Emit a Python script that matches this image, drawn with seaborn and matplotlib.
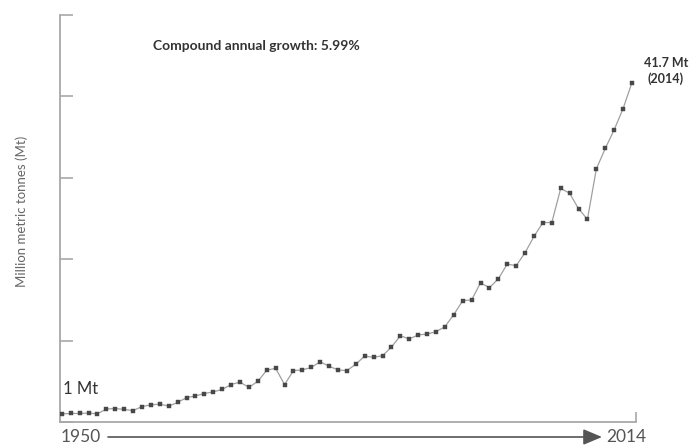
import matplotlib
matplotlib.use("Agg")
import matplotlib.pyplot as plt
import seaborn as sns
import pandas as pd

years = list(range(1950, 2015))
production_mt = [
    1.0, 1.05, 1.05, 1.1, 1.0, 1.6, 1.65, 1.55, 1.4, 1.9,
    2.1, 2.2, 1.95, 2.4, 3.0, 3.2, 3.5, 3.7, 4.0, 4.6,
    4.9, 4.25, 5.0, 6.35, 6.6, 4.6, 6.3, 6.4, 6.7, 7.4,
    6.85, 6.4, 6.3, 7.1, 8.1, 7.95, 8.15, 9.2, 10.6, 10.2,
    10.7, 10.8, 11.1, 11.7, 13.2, 14.9, 15.0, 17.1, 16.5, 17.6,
    19.4, 19.2, 20.8, 22.8, 24.5, 24.5, 28.7, 28.1, 26.2, 24.9,
    31.1, 33.6, 35.9, 38.5, 41.7,
]
y_ticks = [0, 10, 20, 30, 40, 50]
growth_label = "Compound annual growth: 5.99%"
y_label = "Million metric tonnes (Mt)"
start_label = "1 Mt"

df = pd.DataFrame({"year": years, "mt": production_mt})

sns.set_style("white")
plt.rcParams["font.family"] = ["Lato", "DejaVu Sans"]

W, H = 692, 445
fig = plt.figure(figsize=(W / 100, H / 100), dpi=100)
ax = fig.add_axes([60 / W, 23 / H, 576 / W, 407 / H])

sns.lineplot(data=df, x="year", y="mt", ax=ax, color="#a0a0a0", lw=0.9, zorder=2)
sns.scatterplot(data=df, x="year", y="mt", ax=ax, marker="s", s=12,
                color="#484848", edgecolor="#484848", linewidth=0.3, zorder=3)

ax.set_xlim(1949.8, 2014.45)
ax.set_ylim(y_ticks[0], y_ticks[-1])
ax.set_xlabel("")
ax.set_ylabel("")

for s in ["top", "right"]:
    ax.spines[s].set_visible(False)
for s in ["left", "bottom"]:
    ax.spines[s].set_color("#a8a8a8")
    ax.spines[s].set_linewidth(1.3)

ax.set_yticks(y_ticks)
ax.tick_params(axis="y", left=True, direction="in", length=9, width=1.2,
               color="#a8a8a8", labelleft=False)
ax.set_xticks([2014.45])
ax.tick_params(axis="x", bottom=True, direction="in", length=7, width=1.2,
               color="#a8a8a8", labelbottom=False)

tc = "#333333"
fig.text(153 / W, 1 - 46 / H, growth_label, fontsize=10, fontweight="bold",
         color=tc, ha="left", va="center")
fig.text(666 / W, 1 - 63 / H, f"{production_mt[-1]} Mt", fontsize=9,
         fontweight="bold", color=tc, ha="center", va="center")
fig.text(666 / W, 1 - 79 / H, f"({years[-1]})", fontsize=9,
         fontweight="bold", color=tc, ha="center", va="center")
fig.text(63 / W, 1 - 389 / H, start_label, fontsize=12, color=tc,
         ha="left", va="center")
fig.text(22 / W, 1 - 211 / H, y_label, fontsize=9.5, color="#666666",
         rotation=90, ha="center", va="center")

fig.text(61 / W, 1 - 437 / H, str(years[0]), fontsize=12.5, color="#555555",
         ha="left", va="center")
fig.text(646 / W, 1 - 437 / H, str(years[-1]), fontsize=12.5, color="#555555",
         ha="right", va="center")
fig.add_artist(matplotlib.patches.FancyArrowPatch(
    (108 / W, 1 - 437 / H), (602 / W, 1 - 437 / H),
    transform=fig.transFigure,
    arrowstyle="-|>,head_length=0.95,head_width=0.4", mutation_scale=12,
    color="#555555", lw=1.2, shrinkA=0, shrinkB=0))

fig.savefig("out.png", dpi=100)
